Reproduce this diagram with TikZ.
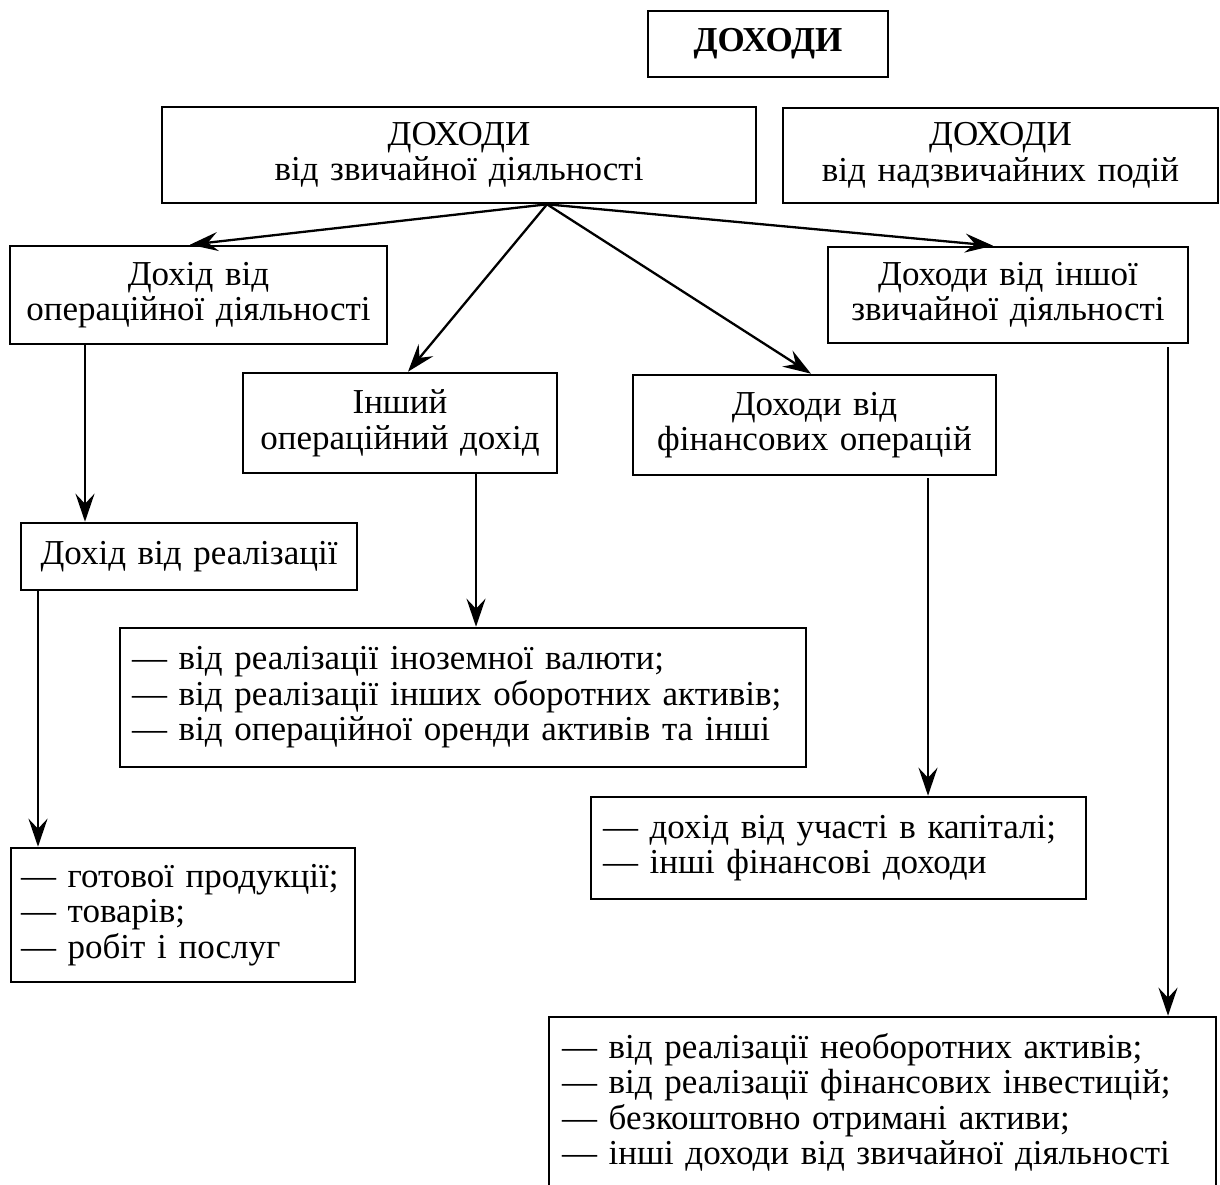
\documentclass[tikz,border=0pt]{standalone}
\usepackage{fontspec}
\setmainfont{Liberation Serif}
\usetikzlibrary{arrows.meta}
\tikzset{
  box/.style={draw, line width=2.6pt, inner xsep=10pt, inner ysep=0pt, align=center,
    font=\fontsize{35}{35.5}\selectfont},
  listbox/.style={box, align=left, inner xsep=12pt},
  arr/.style={line width=2.3pt, -{Stealth[length=28pt,width=19pt,inset=10pt]}},
}
\begin{document}
\begin{tikzpicture}[x=1pt,y=-1pt]
\useasboundingbox (0,0) rectangle (1220,1184);
\clip (0,0) rectangle (1220,1184);
\fill[white] (0,0) rectangle (1220,1184);

\node[box, minimum width=240pt, text width=220pt, minimum height=66pt] (b1) at (768,44) {\textbf{ДОХОДИ}};
\node[box, minimum width=594pt, text width=574pt, minimum height=96pt] (b2) at (459,155) {ДОХОДИ\\від звичайної діяльності};
\node[box, minimum width=435pt, text width=415pt, minimum height=95pt] (b3) at (1000.5,155.5) {ДОХОДИ\\від надзвичайних подій};
\node[box, minimum width=377pt, text width=357pt, minimum height=98pt] (b4) at (198.5,295) {Дохід від\\операційної діяльності};
\node[box, minimum width=360pt, text width=340pt, minimum height=96pt] (b7) at (1008,295) {Доходи від іншої\\звичайної діяльності};
\node[box, minimum width=314pt, text width=294pt, minimum height=100pt] (b5) at (400,423) {Інший\\операційний дохід};
\node[box, minimum width=363pt, text width=343pt, minimum height=100pt] (b6) at (814.5,425) {Доходи від\\фінансових операцій};
\node[box, minimum width=336pt, text width=316pt, minimum height=67pt] (b8) at (189,556.5) {Дохід від реалізації};
\node[listbox, minimum width=686pt, text width=662pt, minimum height=139pt] (b9) at (463,697.5)
  {— від реалізації іноземної валюти;\\— від реалізації інших оборотних активів;\\— від операційної оренди активів та інші};
\node[listbox, minimum width=495pt, text width=471pt, minimum height=102pt] (b10) at (838.5,848)
  {— дохід від участі в капіталі;\\— інші фінансові доходи};
\node[listbox, inner xsep=10pt, minimum width=344pt, text width=324pt, minimum height=134pt] (b11) at (183,915)
  {— готової продукції;\\— товарів;\\— робіт і послуг};
\node[listbox, inner xsep=13pt, minimum width=667pt, text width=641pt, minimum height=171pt] (b12) at (882.5,1102.5)
  {— від реалізації необоротних активів;\\— від реалізації фінансових інвестицій;\\— безкоштовно отримані активи;\\— інші доходи від звичайної діяльності};

\coordinate (o) at ([xshift=88pt]b2.south);
\draw[arr] (o) -- ([xshift=-8.5pt]b4.north);
\draw[arr] (o) -- ([xshift=8pt]b5.north);
\draw[arr] (o) -- ([xshift=-3.5pt]b6.north);
\draw[arr] (o) -- ([xshift=-15pt]b7.north);

\draw[arr] ([xshift=-113.5pt]b4.south) -- ([xshift=-113.5pt]b4.south |- b8.north);
\draw[arr] ([xshift=76pt]b5.south) -- ([xshift=76pt]b5.south |- b9.north);
\draw[arr, shorten <=2pt] ([xshift=113.5pt]b6.south) -- ([xshift=113.5pt]b6.south |- b10.north);
\draw[arr] ([xshift=-151pt]b8.south) -- ([xshift=-151pt]b8.south |- b11.north);
\draw[arr, shorten <=3pt] ([xshift=160pt]b7.south) -- ([xshift=160pt]b7.south |- b12.north);
\end{tikzpicture}
\end{document}
